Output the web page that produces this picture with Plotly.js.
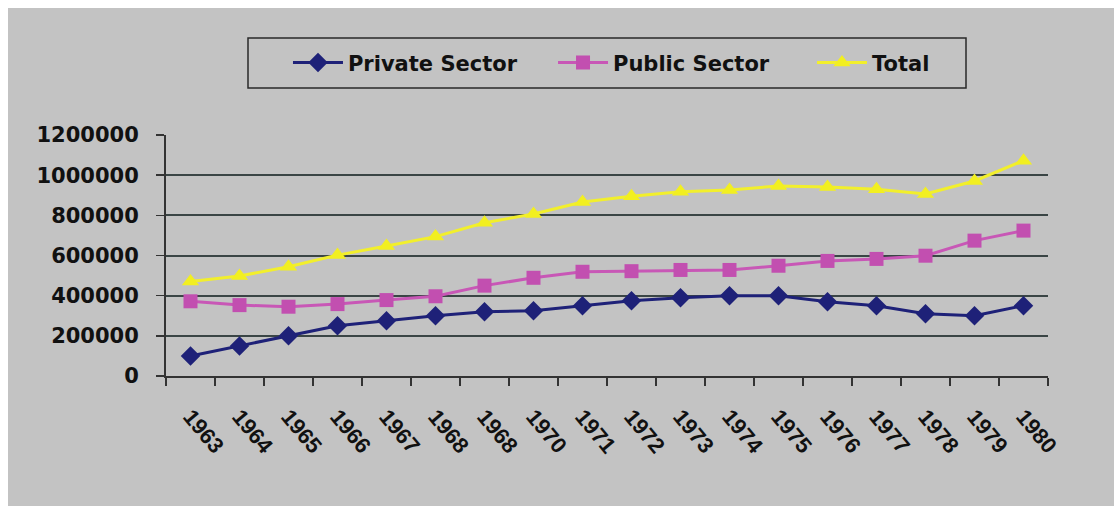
<!DOCTYPE html>
<html>
<head>
<meta charset="utf-8">
<script src="https://cdn.plot.ly/plotly-3.0.1.min.js"></script>
<style>
  html, body { margin: 0; padding: 0; background: #ffffff; width: 1114px; height: 506px; overflow: hidden; }
  #chart { position: absolute; left: 8px; top: 8px; width: 1106px; height: 498px; }
</style>
</head>
<body>
<div id="chart"></div>
<script>
// Category labels (note: the source repeats "1968")
const years = ["1963","1964","1965","1966","1967","1968","1968","1970","1971","1972","1973","1974","1975","1976","1977","1978","1979","1980"];
const privateSector = [100000,150000,200000,250000,275000,300000,320000,325000,350000,375000,390000,400000,400000,370000,350000,310000,300000,350000];
const publicSector  = [372000,353000,345000,358000,378000,397000,450000,489000,519000,522000,528000,528000,549000,573000,583000,599000,674000,724000];
const total         = [470000,498000,544000,602000,647000,694000,763000,807000,866000,895000,918000,926000,946000,941000,930000,906000,971000,1072000];
const yTicks = [0,200000,400000,600000,800000,1000000,1200000];

const idx = years.map((_, i) => i);
const bg = '#c3c3c3';
const legendFont = { family: 'DejaVu Sans', size: 21, color: '#111', weight: 'bold' };

const traces = [
  { x: idx, y: privateSector, name: 'Private Sector', type: 'scatter', mode: 'lines+markers', legend: 'legend',
    line: { color: '#1e2178', width: 3 }, marker: { symbol: 'diamond', size: 15, color: '#1e2178' } },
  { x: idx, y: publicSector, name: 'Public Sector', type: 'scatter', mode: 'lines+markers', legend: 'legend2',
    line: { color: '#c857b6', width: 3 }, marker: { symbol: 'square', size: 14, color: '#c24fb0' } },
  { x: idx, y: total, name: 'Total', type: 'scatter', mode: 'lines+markers', legend: 'legend3',
    line: { color: '#f2ef2c', width: 3 }, marker: { symbol: 'triangle-up', size: 15, color: '#f2ef20' } }
];

function leg(x) {
  return { orientation: 'h', x: x, xanchor: 'left', y: 1.299, yanchor: 'middle',
           bgcolor: 'rgba(0,0,0,0)', borderwidth: 0, font: legendFont, itemwidth: 50 };
}

const layout = {
  width: 1106, height: 498,
  paper_bgcolor: bg, plot_bgcolor: bg,
  margin: { l: 158, r: 66, t: 127, b: 130 },
  showlegend: true,
  legend: leg(0.1383),
  legend2: leg(0.4388),
  legend3: leg(0.7324),
  xaxis: {
    range: [-0.5, 17.5], tickmode: 'array', tickvals: idx, ticktext: years.map(y => '<b>' + y + '</b>'),
    tickangle: 50, ticks: '', showgrid: false, zeroline: false,
    showline: true, linecolor: '#333', linewidth: 2,
    tickfont: { family: 'Liberation Sans', size: 22, color: '#111', weight: 'bold' },
    ticklabelstandoff: 17,
    minor: { ticks: 'outside', tick0: -0.5, dtick: 1, ticklen: 8, tickwidth: 1.5, tickcolor: '#333', showgrid: false }
  },
  yaxis: {
    range: [0, 1200000], tickmode: 'array', tickvals: yTicks, ticktext: yTicks.map(String),
    ticks: 'outside', ticklen: 8, tickwidth: 1.5, tickcolor: '#333',
    showgrid: true, gridcolor: '#3a4545', gridwidth: 2, zeroline: false,
    showline: true, linecolor: '#333', linewidth: 2,
    tickfont: { family: 'DejaVu Sans', size: 21, color: '#111', weight: 'bold' },
    ticklabelstandoff: 13
  },
  shapes: [
    { type: 'rect', xref: 'paper', yref: 'paper', x0: (248-166)/882, x1: (966-166)/882,
      y0: (376-88)/241, y1: (376-38)/241, line: { color: '#2a2a2a', width: 1.5 }, fillcolor: 'rgba(0,0,0,0)', layer: 'below' }
  ]
};

Plotly.newPlot('chart', traces, layout, { displayModeBar: false, staticPlot: true });
</script>
</body>
</html>
